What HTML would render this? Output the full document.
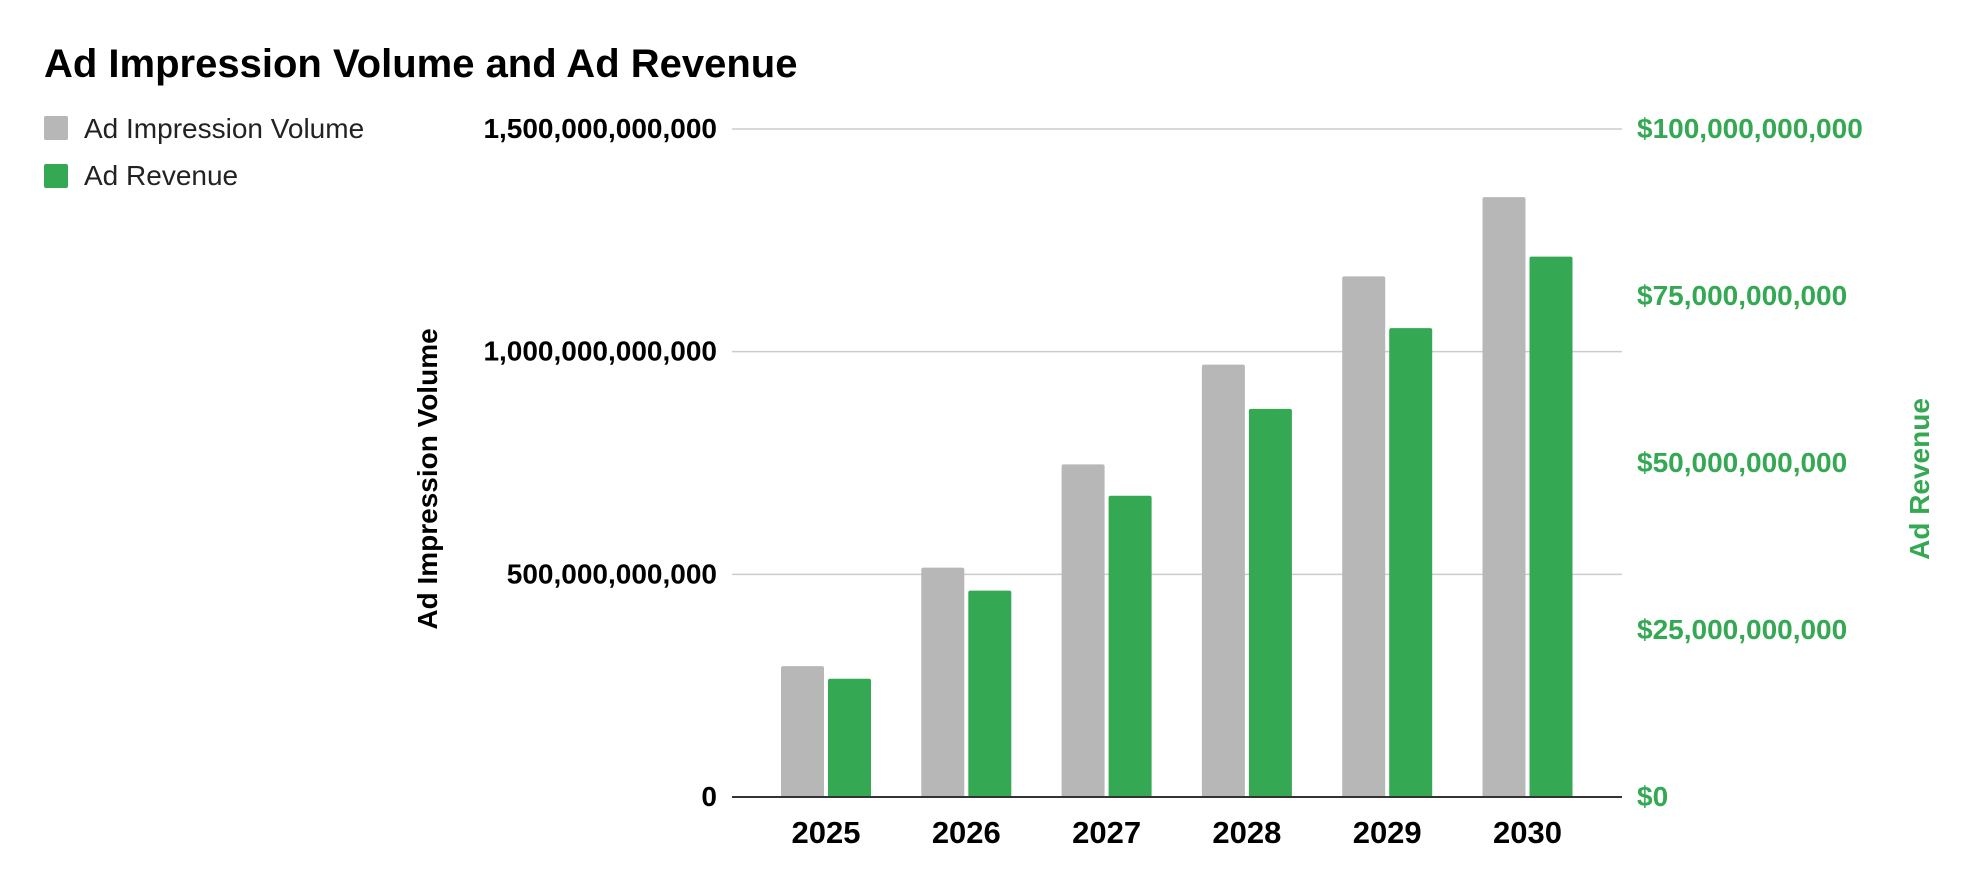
<!DOCTYPE html>
<html><head><meta charset="utf-8">
<style>
html,body{margin:0;padding:0;background:#fff;}
svg{display:block;font-family:"Liberation Sans",Arial,sans-serif;}
</style></head>
<body>
<svg id="chart" width="1978" height="890" viewBox="0 0 1978 890">
  <text x="44" y="77" font-size="40" font-weight="bold" fill="#000">Ad Impression Volume and Ad Revenue</text>
  <g>
    <g>
      <rect x="44" y="116" width="24" height="24" rx="2" fill="#b7b7b7"/>
      <text x="84" y="138" font-size="28" fill="#222">Ad Impression Volume</text>
    </g>
    <g>
      <rect x="44" y="164" width="24" height="24" rx="2" fill="#34a853"/>
      <text x="84" y="185" font-size="28" fill="#222">Ad Revenue</text>
    </g>
  </g>
  <g id="grid"></g>
  <g id="bars"></g>
  <g id="axes"></g>
  <text transform="translate(437,479) rotate(-90)" text-anchor="middle" font-size="28" font-weight="bold" fill="#000">Ad Impression Volume</text>
  <text transform="translate(1929,479) rotate(-90)" text-anchor="middle" font-size="28" font-weight="bold" fill="#34a853">Ad Revenue</text>
</svg>
<script>
const categories = ["2025","2026","2027","2028","2029","2030"];
const impressions = [294e9, 515e9, 747e9, 971e9, 1169e9, 1347e9];
const revenue = [17.7e9, 30.9e9, 45.1e9, 58.1e9, 70.2e9, 80.9e9];
const leftTicks = [0, 500e9, 1000e9, 1500e9];
const leftTickLabels = ["0","500,000,000,000","1,000,000,000,000","1,500,000,000,000"];
const rightTicks = [0, 25e9, 50e9, 75e9, 100e9];
const rightTickLabels = ["$0","$25,000,000,000","$50,000,000,000","$75,000,000,000","$100,000,000,000"];

const NS = "http://www.w3.org/2000/svg";
const plotL = 732, plotR = 1622, plotT = 129, plotB = 797;
const leftMax = 1500e9, rightMax = 100e9;
const yL = v => plotB - v / leftMax * (plotB - plotT);
const yR = v => plotB - v / rightMax * (plotB - plotT);
const step = 140.3, firstCenter = 826;
const xC = i => firstCenter + i * step;
const barW = 43, gap = 4;

function mk(tag, attrs, parent){
  const el = document.createElementNS(NS, tag);
  for (const k in attrs) el.setAttribute(k, attrs[k]);
  parent.appendChild(el);
  return el;
}
const grid = document.getElementById('grid');
const bars = document.getElementById('bars');
const axes = document.getElementById('axes');

leftTicks.forEach((t, i) => {
  const y = yL(t);
  if (t !== 0) {
    const g = mk('line', {x1: plotL, x2: plotR, y1: y, y2: y, stroke: '#cccccc', 'stroke-width': 1.5}, grid);
    
    
  }
  const lbl = mk('text', {x: 717, y: y + 9, 'text-anchor': 'end', 'font-size': 28, 'font-weight': 'bold', fill: '#000'}, axes);
  lbl.textContent = leftTickLabels[i];
  
  
});
rightTicks.forEach((t, i) => {
  const y = yR(t);
  const lbl = mk('text', {x: 1637, y: y + 9, 'font-size': 28, 'font-weight': 'bold', fill: '#34a853'}, axes);
  lbl.textContent = rightTickLabels[i];
  
  
});

categories.forEach((c, i) => {
  const cx = xC(i);
  const y1 = yL(impressions[i]);
  const b1 = mk('rect', {x: cx - gap/2 - barW, y: y1, width: barW, height: plotB - y1, rx: 2, fill: '#b7b7b7'}, bars);
  
  
  const y2 = yR(revenue[i]);
  const b2 = mk('rect', {x: cx + gap/2, y: y2, width: barW, height: plotB - y2, rx: 2, fill: '#34a853'}, bars);
  
  
  const lbl = mk('text', {x: cx, y: 843, 'text-anchor': 'middle', 'font-size': 31, 'font-weight': 'bold', fill: '#000'}, axes);
  lbl.textContent = c;
  
  
});

const base = mk('line', {x1: plotL, x2: plotR, y1: plotB, y2: plotB, stroke: '#333', 'stroke-width': 2}, axes);


</script>
</body></html>
